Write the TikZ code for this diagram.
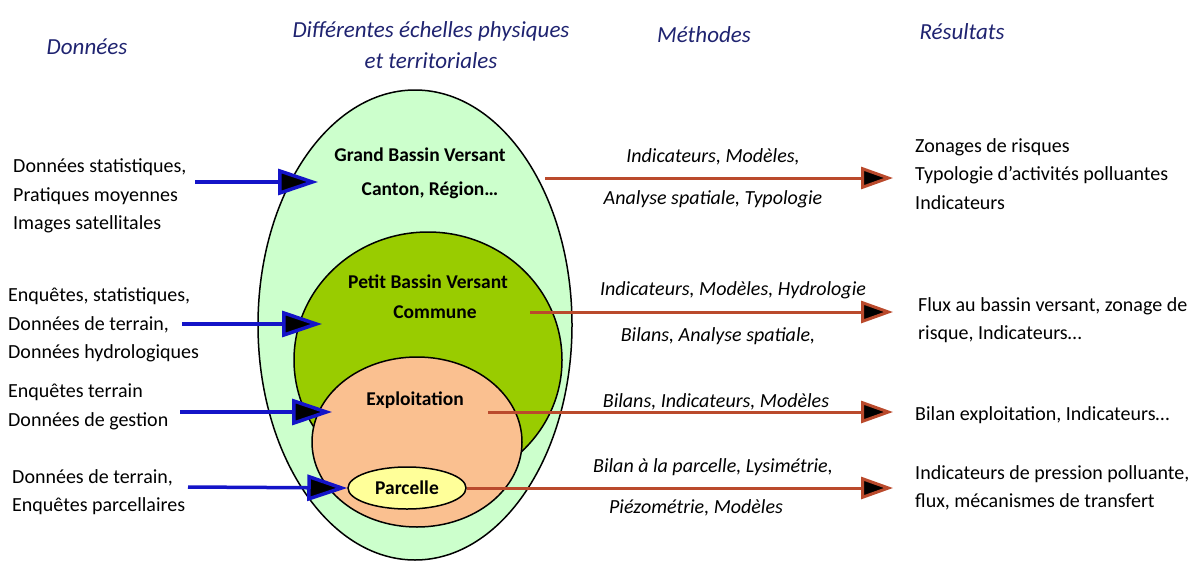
\documentclass[tikz,border=0pt]{standalone}
\usepackage{fontspec}
\setmainfont{Carlito}
\usetikzlibrary{arrows.meta,shapes.geometric,positioning}

\definecolor{headBlue}{HTML}{1F2370}
\definecolor{paleGreen}{HTML}{CCFFCC}
\definecolor{leafGreen}{HTML}{99CC00}
\definecolor{peach}{HTML}{FAC090}
\definecolor{paleYellow}{HTML}{FFFF99}
\definecolor{inBlue}{HTML}{1414C8}
\definecolor{outRed}{HTML}{BA4A2C}

\begin{document}
\begin{tikzpicture}[x=1pt,y=-1pt,>=latex]
  \tikzstyle{zone} = [draw, line width=1.5pt, ellipse, inner sep=0pt]
  \tikzstyle{zoneLabel} = [font={\fontsize{19.5}{24}\selectfont\bfseries}, inner sep=0pt]
  \tikzstyle{header} = [font={\fontsize{23}{31}\selectfont\itshape}, text=headBlue, align=center, inner sep=0pt]
  \tikzstyle{dataText} = [font={\fontsize{20}{28.5}\selectfont}, align=left, anchor=west, inner sep=0pt]
  \tikzstyle{methodLabel} = [font={\fontsize{20}{24}\selectfont\itshape}, inner sep=0pt]
  \tikzstyle{inArrow} = [inBlue, line width=3.5pt, -{Triangle[length=40pt,width=26pt,fill=black]}]
  \tikzstyle{outArrow} = [outRed, line width=3pt, -{Triangle[length=32pt,width=22pt,fill=black]}]

  \useasboundingbox (0,0) rectangle (1196,562);

  % column titles
  \node[header] (hData)    at (87,47)  {Données};
  \node[header] (hScale)   at (431,45) {Différentes échelles physiques\\et territoriales};
  \node[header] (hMethod)  at (704,35) {Méthodes};
  \node[header] (hResult)  at (962,32) {Résultats};

  % nested scales
  \node[zone, fill=paleGreen,  minimum width=314pt, minimum height=470pt] (outer) at (415,325) {};
  \node[zone, fill=leafGreen,  minimum width=268pt, minimum height=256pt] (petit) at (428,360) {};
  \node[zone, fill=peach,      minimum width=210pt, minimum height=170pt] (expl)  at (417,442) {};
  \node[zone, fill=paleYellow, minimum width=118pt, minimum height=42pt, font={\fontsize{19.5}{24}\selectfont\bfseries}] (parc) at (407,488) {Parcelle};

  \node[zoneLabel] (gbv)     at (420,155) {Grand Bassin Versant};
  \node[zoneLabel] (canton)  at (430,190) {Canton, Région…};
  \node[zoneLabel] (pbv)     at (428,282) {Petit Bassin Versant};
  \node[zoneLabel] (commune) at (435,312) {Commune};
  \node[zoneLabel] (explLab) at (415,400) {Exploitation};

  % data
  \node[dataText] (d1) at (13,196) {Données statistiques,\\Pratiques moyennes\\Images satellitales};
  \node[dataText] (d2) at (8,325)  {Enquêtes, statistiques,\\Données de terrain,\\Données hydrologiques};
  \node[dataText] (d3) at (8,407)  {Enquêtes terrain\\Données de gestion};
  \node[dataText] (d4) at (12,492) {Données de terrain,\\Enquêtes parcellaires};

  % results
  \node[dataText] (r1) at (915,174) {Zonages de risques\\Typologie d’activités polluantes\\Indicateurs};
  \node[dataText] (r2) at (918,320) {Flux au bassin versant, zonage de\\risque, Indicateurs…};
  \node[dataText] (r3) at (915,415) {Bilan exploitation, Indicateurs…};
  \node[dataText] (r4) at (915,488) {Indicateurs de pression polluante,\\flux, mécanismes de transfert};

  % methods
  \node[methodLabel] (m1a) at (713,157) {Indicateurs, Modèles,};
  \node[methodLabel] (m1b) at (713,199) {Analyse spatiale, Typologie};
  \node[methodLabel] (m2a) at (733,290) {Indicateurs, Modèles, Hydrologie};
  \node[methodLabel] (m2b) at (718,336) {Bilans, Analyse spatiale,};
  \node[methodLabel] (m3a) at (716,402) {Bilans, Indicateurs, Modèles};
  \node[methodLabel] (m4a) at (713,467) {Bilan à la parcelle, Lysimétrie,};
  \node[methodLabel] (m4b) at (696,508) {Piézométrie, Modèles};

  % arrow ends
  \coordinate (src1) at (195,182);
  \coordinate (src2) at (182,324);
  \coordinate (src3) at (180,412);
  \coordinate (src4) at (188,487);
  \coordinate (gbvIn)  at (318,182);
  \coordinate (pbvIn)  at (322,324);
  \coordinate (explIn) at (332,412);
  \coordinate (gbvOut)  at (545,178);
  \coordinate (pbvOut)  at (530,312);
  \coordinate (explOut) at (488,412);

  \draw[inArrow] (src1) -- (gbvIn);
  \draw[inArrow] (src2) -- (pbvIn);
  \draw[inArrow] (src3) -- (explIn);
  \draw[inArrow] (src4) -- (parc.west);

  \draw[outArrow, shorten >=22pt] (gbvOut)  -- (r1.west |- gbvOut);
  \draw[outArrow, shorten >=25pt] (pbvOut)  -- (r2.west |- pbvOut);
  \draw[outArrow, shorten >=22pt] (explOut) -- (r3.west |- explOut);
  \draw[outArrow, shorten >=22pt] (parc.east) -- (r4.west |- parc.east);
\end{tikzpicture}
\end{document}
